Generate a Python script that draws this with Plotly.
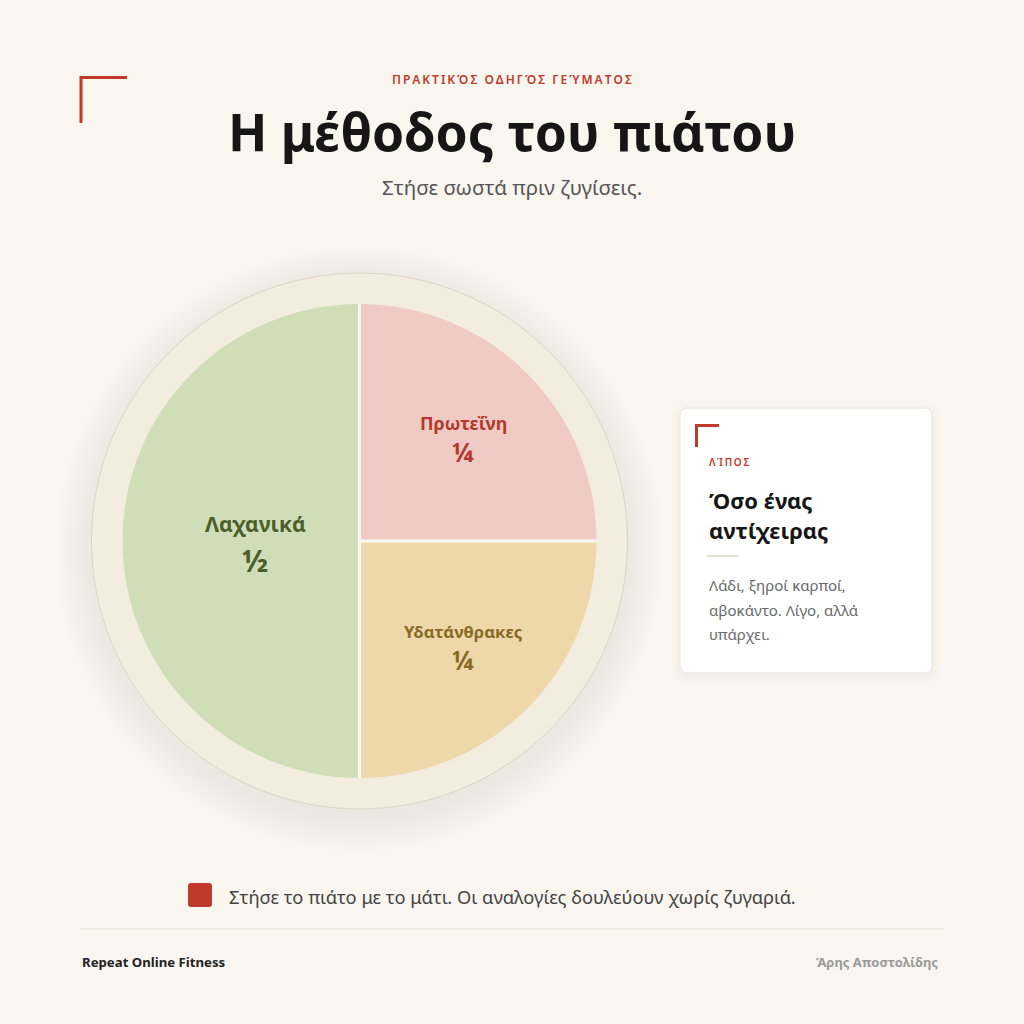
import math
import plotly.graph_objects as go

W = H = 1024

# ---- data ----
categories = ["Πρωτεΐνη", "Υδατάνθρακες", "Λαχανικά"]
shares = [25, 25, 50]
fractions = ["¼", "¼", "½"]
slice_colors = ["#f0cac5", "#eed8a9", "#cfdeb6"]
label_colors = ["#b5392e", "#876a25", "#4b5f2d"]

eyebrow = "ΠΡΑΚΤΙΚΌΣ ΟΔΗΓΌΣ ΓΕΎΜΑΤΟΣ"
title = "Η μέθοδος του πιάτου"
subtitle = "Στήσε σωστά πριν ζυγίσεις."
card_kicker = "ΛΊΠΟΣ"
card_title_lines = ["Όσο ένας", "αντίχειρας"]
card_body_lines = ["Λάδι, ξηροί καρποί,", "αβοκάντο. Λίγο, αλλά", "υπάρχει."]
note = "Στήσε το πιάτο με το μάτι. Οι αναλογίες δουλεύουν χωρίς ζυγαριά."
brand = "Repeat Online Fitness"
author = "Άρης Αποστολίδης"

RED = "#c0392b"
BG = "#f9f6f0"
SEP = "#fbf8f3"
FONT = "Noto Sans"


def px(x):
    return x / W


def py(y):
    return 1 - y / H


def spaced(s, sep="\u2009"):
    return sep.join(list(s))


# geometry
CX, CY, R = 359.5, 541, 237
PLATE_R = 268

fig = go.Figure()
fig.add_trace(go.Pie(
    labels=categories,
    values=shares,
    sort=False,
    direction="clockwise",
    rotation=0,
    marker=dict(colors=slice_colors, line=dict(width=0)),
    textinfo="none",
    hoverinfo="skip",
    showlegend=False,
    domain=dict(x=[px(CX - R), px(CX + R)], y=[py(CY + R), py(CY - R)]),
))

shapes = []
# plate shadow
for i in range(14):
    rr = PLATE_R + 2 + i * 2.5
    cy = CY + 8
    shapes.append(dict(type="circle", xref="paper", yref="paper",
                       x0=px(CX - rr), x1=px(CX + rr), y0=py(cy + rr), y1=py(cy - rr),
                       fillcolor="rgba(120,100,70,0.008)", line=dict(width=0), layer="below"))
# plate
shapes.append(dict(type="circle", xref="paper", yref="paper",
                   x0=px(CX - PLATE_R), x1=px(CX + PLATE_R),
                   y0=py(CY + PLATE_R), y1=py(CY - PLATE_R),
                   fillcolor="#f3ede0", line=dict(color="#ddd4c2", width=1), layer="below"))

# slice separators, from the cumulative slice boundaries
total = sum(shares)
cum = 0
for v in shares:
    ang = cum / total * 2 * math.pi
    cum += v
    shapes.append(dict(type="line", xref="paper", yref="paper",
                       x0=px(CX), y0=py(CY),
                       x1=px(CX + R * math.sin(ang)), y1=py(CY - R * math.cos(ang)),
                       line=dict(color=SEP, width=3)))

# top-left corner bracket
shapes.append(dict(type="line", xref="paper", yref="paper", x0=px(81), x1=px(81), y0=py(76), y1=py(123),
                   line=dict(color=RED, width=3)))
shapes.append(dict(type="line", xref="paper", yref="paper", x0=px(80), x1=px(127), y0=py(77.5), y1=py(77.5),
                   line=dict(color=RED, width=3)))


def rounded_rect(x0, y0, x1, y1, r):
    p = [
        f"M {px(x0 + r)} {py(y0)}",
        f"L {px(x1 - r)} {py(y0)}",
        f"Q {px(x1)} {py(y0)} {px(x1)} {py(y0 + r)}",
        f"L {px(x1)} {py(y1 - r)}",
        f"Q {px(x1)} {py(y1)} {px(x1 - r)} {py(y1)}",
        f"L {px(x0 + r)} {py(y1)}",
        f"Q {px(x0)} {py(y1)} {px(x0)} {py(y1 - r)}",
        f"L {px(x0)} {py(y0 + r)}",
        f"Q {px(x0)} {py(y0)} {px(x0 + r)} {py(y0)}",
        "Z",
    ]
    return " ".join(p)


# card shadow + card
for i in range(6):
    d = 1 + i * 1.5
    shapes.append(dict(type="path", xref="paper", yref="paper",
                       path=rounded_rect(680 - d, 408 - d + 3, 932 + d, 673 + d + 3, 8 + d),
                       fillcolor="rgba(120,100,70,0.008)", line=dict(width=0)))
shapes.append(dict(type="path", xref="paper", yref="paper",
                   path=rounded_rect(680, 408, 932, 673, 8),
                   fillcolor="#ffffff", line=dict(color="#ebe5da", width=1)))
# card bracket
shapes.append(dict(type="line", xref="paper", yref="paper", x0=px(696.5), x1=px(696.5), y0=py(424), y1=py(447),
                   line=dict(color=RED, width=3)))
shapes.append(dict(type="line", xref="paper", yref="paper", x0=px(695), x1=px(719), y0=py(425.5), y1=py(425.5),
                   line=dict(color=RED, width=3)))
# card small divider
shapes.append(dict(type="line", xref="paper", yref="paper", x0=px(707), x1=px(738), y0=py(556), y1=py(556),
                   line=dict(color="#e3dfd2", width=2)))

# note square
shapes.append(dict(type="path", xref="paper", yref="paper",
                   path=rounded_rect(188, 883, 212, 907, 3),
                   fillcolor=RED, line=dict(width=0)))
# footer divider
shapes.append(dict(type="line", xref="paper", yref="paper", x0=px(80), x1=px(944), y0=py(929), y1=py(929),
                   line=dict(color="#e4dfd4", width=1)))

ann = []


def text(x, y, s, size, color, xanchor="center", weight="normal", family=FONT):
    ann.append(dict(x=px(x), y=py(y), xref="paper", yref="paper", text=s, showarrow=False,
                    xanchor=xanchor, yanchor="middle",
                    font=dict(family=family, size=size, color=color, weight=weight)))


text(512, 79, spaced(eyebrow), 12, RED, weight=600)
text(512, 131, f"<b>{title}</b>", 51.5, "#161616")
text(512, 187, subtitle, 20.5, "#555555")

# slice labels positioned from the data (mid-angle of each slice)
label_r = [0.62, 0.62, 0.44]
name_sizes = [18, 16.7, 21]
frac_sizes = [26, 26, 30]
gaps = [(14, 15), (13, 15), (17, 19)]
cum = 0
for i, (cat, v) in enumerate(zip(categories, shares)):
    mid = (cum + v / 2) / total * 2 * math.pi
    cum += v
    lx = CX + label_r[i] * R * math.sin(mid)
    ly = CY - label_r[i] * R * math.cos(mid)
    text(lx, ly - gaps[i][0], f"<b>{cat}</b>", name_sizes[i], label_colors[i])
    text(lx, ly + gaps[i][1], f"<b>{fractions[i]}</b>", frac_sizes[i], label_colors[i])

# card text
text(707, 462, spaced(card_kicker), 10, RED, xanchor="left", weight=600)
for j, line in enumerate(card_title_lines):
    text(707, 500 + j * 30, f"<b>{line}</b>", 22, "#161616", xanchor="left")
for j, line in enumerate(card_body_lines):
    text(707, 585 + j * 24.5, line, 15, "#6a6a6a", xanchor="left")

# note
text(227, 896, note, 18.3, "#444444", xanchor="left")

# footer
text(80, 962, f"<b>{brand}</b>", 13.2, "#222222", xanchor="left")
text(940, 962, f"<b>{author}</b>", 13, "#9a9a9a", xanchor="right")

fig.update_layout(
    width=W, height=H,
    margin=dict(l=0, r=0, t=0, b=0),
    paper_bgcolor=BG, plot_bgcolor=BG,
    shapes=shapes, annotations=ann,
    showlegend=False,
)

fig.write_html("out.html",
               config={"displayModeBar": False, "staticPlot": True},
               post_script="document.body.style.margin='0';document.body.style.overflow='hidden';")
